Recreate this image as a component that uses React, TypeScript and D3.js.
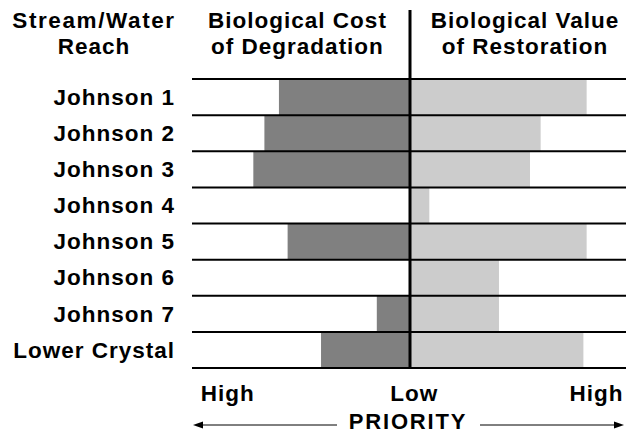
import React from "react";
import * as d3 from "d3";

const reaches = ["Johnson 1", "Johnson 2", "Johnson 3", "Johnson 4", "Johnson 5", "Johnson 6", "Johnson 7", "Lower Crystal"];
const costOfDegradation = [60.4, 67.1, 72.2, 0, 56.4, 0, 15.3, 41];
const valueOfRestoration = [81.4, 60.2, 55.3, 8.9, 81.4, 41, 41, 79.9];
const axisLabels = ["High", "Low", "High"];
const axisLabelValues = [-84, 2, 86];

const W = 626;
const H = 433;
const FONT = "'Liberation Sans', Arial, Helvetica, sans-serif";

export default function App() {
  const x = d3.scaleLinear().domain([-100, 100]).range([193, 627]);
  const y = d3.scaleBand<string>().domain(reaches).range([79, 368]).padding(0);
  const x0 = x(0);
  const lineLeft = 192;
  const lineRight = 626;
  const boundaries = [...reaches.map((r) => y(r) as number), y.range()[1]];
  const textStyle: React.CSSProperties = { fontFamily: FONT, fontWeight: 700, fontSize: 22.5, letterSpacing: 1, fill: "#000" };
  const arrowY = 425;

  return (
    <svg width={W} height={H} style={{ position: "absolute", left: 0, top: 0, background: "#fff" }}>
      {/* headers */}
      <text x={94} y={27.7} textAnchor="middle" style={{ ...textStyle, letterSpacing: 1.6 }}>Stream/Water</text>
      <text x={94} y={54.3} textAnchor="middle" style={textStyle}>Reach</text>
      <text x={297.5} y={27.7} textAnchor="middle" style={textStyle}>Biological Cost</text>
      <text x={297.5} y={54.3} textAnchor="middle" style={textStyle}>of Degradation</text>
      <text x={525} y={27.7} textAnchor="middle" style={textStyle}>Biological Value</text>
      <text x={525} y={54.3} textAnchor="middle" style={textStyle}>of Restoration</text>

      {/* bars */}
      {reaches.map((r, i) => (
        <g key={r}>
          {costOfDegradation[i] > 0 && (
            <rect x={x(-costOfDegradation[i])} y={y(r)} width={x0 - x(-costOfDegradation[i])} height={y.bandwidth()} fill="#808080" />
          )}
          {valueOfRestoration[i] > 0 && (
            <rect x={x0} y={y(r)} width={x(valueOfRestoration[i]) - x0} height={y.bandwidth()} fill="#cccccc" />
          )}
          <text x={175} y={(y(r) as number) + y.bandwidth() / 2 + 7.8} textAnchor="end" style={textStyle}>{r}</text>
        </g>
      ))}

      {/* row lines */}
      {boundaries.map((b, i) => (
        <line key={i} x1={lineLeft} x2={lineRight} y1={b} y2={b} stroke="#000" strokeWidth={2} />
      ))}

      {/* center line */}
      <line x1={x0} x2={x0} y1={10} y2={y.range()[1]} stroke="#000" strokeWidth={3} />

      {/* axis labels */}
      {axisLabels.map((l, i) => (
        <text key={i} x={x(axisLabelValues[i])} y={400.7} textAnchor="middle" style={textStyle}>{l}</text>
      ))}

      {/* priority arrows */}
      <line x1={x(-100) + 8} x2={337} y1={arrowY} y2={arrowY} stroke="#000" strokeWidth={1} />
      <path d={`M${x(-100)},${arrowY} l10,-3.5 l0,7 z`} fill="#000" />
      <line x1={480} x2={lineRight - 10} y1={arrowY} y2={arrowY} stroke="#000" strokeWidth={1} />
      <path d={`M${lineRight - 2},${arrowY} l-10,-3.5 l0,7 z`} fill="#000" />
      <text x={408} y={428.5} textAnchor="middle" style={{ ...textStyle, fontSize: 22, letterSpacing: 1.8 }}>PRIORITY</text>
    </svg>
  );
}
